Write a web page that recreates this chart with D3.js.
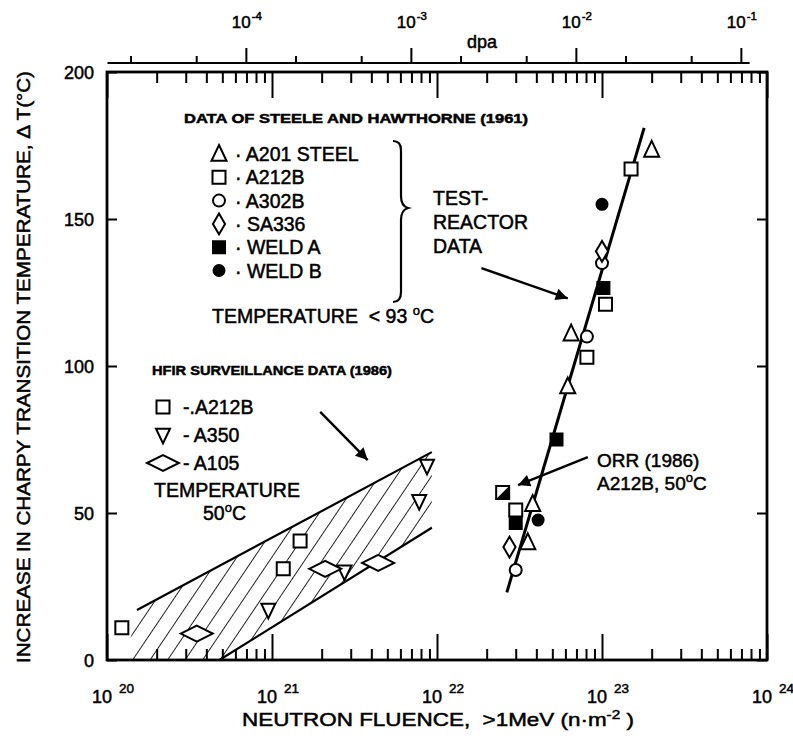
<!DOCTYPE html>
<html><head><meta charset="utf-8">
<script src="https://cdn.jsdelivr.net/npm/d3@7"></script>
<style>body{margin:0;background:#fff}text{font-family:"Liberation Sans",Arial,sans-serif;fill:#000;stroke:#000;stroke-width:0.5px}</style>
</head><body><svg id="c" width="793" height="746"></svg>
<script>
// ---------------- data ----------------
const xDomain = [1e20, 1e24];
const yDomain = [0, 200];
const xMajorTicks = [1e20, 1e21, 1e22, 1e23, 1e24];
const xTickExponents = ["20", "21", "22", "23", "24"];
const yTicks = [0, 50, 100, 150, 200];
const dpaPerFluence = 1.44e-25;
const dpaMajorTicks = [1e-4, 1e-3, 1e-2, 1e-1];
const dpaExponents = ["-4", "-3", "-2", "-1"];
const dpaLineExtent = [1.45e-5, 1.13e-1];

// Steele & Hawthorne (1961), test-reactor data [fluence, dT]
const a201Steel = [[2.0e23, 173.5], [6.5e22, 111], [6.2e22, 93], [3.8e22, 53], [3.55e22, 40]];
const a212B = [[1.5e23, 167], [1.05e23, 121], [8.1e22, 103], [3.0e22, 51]];
const a302B = [[1.0e23, 135], [8.1e22, 110], [3.0e22, 30.6]];
const sa336 = [[1.0e23, 139], [2.75e22, 38.4]];
const weldA = [[1.02e23, 126.5], [5.3e22, 75], [3.0e22, 46.6]];
const weldB = [[1.0e23, 155], [4.1e22, 47.6]];
const orr1986 = [[2.5e22, 57]];
const testReactorFit = [[2.65e22, 23], [1.8e23, 181]];

// HFIR surveillance data (1986)
const hfirA212B = [[1.23e20, 11], [1.17e21, 31], [1.48e21, 40.5]];
const hfirA350 = [[9.5e20, 17], [2.75e21, 30], [7.8e21, 54], [8.7e21, 66]];
const hfirA105 = [[3.5e20, 9], [2.1e21, 31], [4.4e21, 33]];
const hfirBandUpper = [[1.52e20, 17], [9.3e21, 70.7]];
const hfirBandLower = [[4.8e20, 0], [9.3e21, 45]];
const hfirBandLeft = [[1.52e20, 17], [1.3e20, 0]];

// annotation arrows [from, to]
const arrowTest = [[1.86e22, 133.3], [6.2e22, 123]];
const arrowHfir = [[1.96e21, 84.4], [3.8e21, 68]];
const arrowOrr = [[8.2e22, 69], [3.1e22, 59.5]];

// ---------------- drawing ----------------
const svg = d3.select("#c");
svg.append("rect").attr("width", 793).attr("height", 746).attr("fill", "#fff");
const L = 107, R = 767, T = 72, B = 660;
const x = d3.scaleLog().domain(xDomain).range([L, R]);
const y = d3.scaleLinear().domain(yDomain).range([B, T]);
const xd = d3.scaleLog().domain(xDomain.map(v => v * dpaPerFluence)).range([L, R]);

const defs = svg.append("defs");
const pat = defs.append("pattern").attr("id", "hatch").attr("patternUnits", "userSpaceOnUse")
  .attr("width", 14.5).attr("height", 14.5).attr("patternTransform", "rotate(34)");
pat.append("line").attr("x1", 0).attr("y1", 0).attr("x2", 0).attr("y2", 14.5)
  .attr("stroke", "#000").attr("stroke-width", 1.7);
defs.append("marker").attr("id", "ah").attr("viewBox", "0 0 10 10").attr("refX", 10).attr("refY", 5)
  .attr("markerWidth", 22).attr("markerHeight", 12).attr("markerUnits", "userSpaceOnUse").attr("orient", "auto")
  .append("path").attr("d", "M0,0L10,5L0,10Z").attr("fill", "#000");

// HFIR band
const ln = d3.line().x(d => x(d[0])).y(d => y(d[1]));
const bandPoly = [hfirBandLeft[1], hfirBandLeft[0], hfirBandUpper[1], hfirBandLower[1], hfirBandLower[0]];
svg.append("path").attr("d", ln(bandPoly) + "Z").attr("fill", "url(#hatch)").attr("stroke", "none");
[hfirBandUpper, hfirBandLower].forEach(s => svg.append("path").attr("d", ln(s)).attr("stroke", "#000").attr("stroke-width", 2.2).attr("fill", "none"));

// frame
svg.append("rect").attr("x", L).attr("y", T).attr("width", R - L).attr("height", B - T)
  .attr("fill", "none").attr("stroke", "#000").attr("stroke-width", 2.8);

// ticks
const minorX = [];
for (let e = 20; e < 24; e++) for (let m = 2; m <= 9; m++) minorX.push(m * Math.pow(10, e));
function axisStyle(g) { g.select(".domain").remove(); g.selectAll("line").attr("stroke", "#000").attr("stroke-width", 2); g.selectAll("text").remove(); }
svg.append("g").attr("transform", `translate(0,${B})`).call(d3.axisTop(x).tickValues(minorX).tickSize(11).tickFormat("")).call(axisStyle);
svg.append("g").attr("transform", `translate(0,${B})`).call(d3.axisTop(x).tickValues(xMajorTicks).tickSize(26).tickFormat("")).call(axisStyle);
svg.append("g").attr("transform", `translate(0,${T})`).call(d3.axisBottom(x).tickValues(minorX).tickSize(11).tickFormat("")).call(axisStyle);
svg.append("g").attr("transform", `translate(0,${T})`).call(d3.axisBottom(x).tickValues(xMajorTicks).tickSize(26).tickFormat("")).call(axisStyle);
svg.append("g").attr("transform", `translate(${L},0)`).call(d3.axisRight(y).tickValues(yTicks).tickSize(10).tickFormat("")).call(axisStyle);
svg.append("g").attr("transform", `translate(${R},0)`).call(d3.axisLeft(y).tickValues(yTicks).tickSize(10).tickFormat("")).call(axisStyle);

// x tick labels
xMajorTicks.forEach((v, i) => {
  const t = svg.append("text").attr("x", x(v) - 15).attr("y", 703).attr("font-size", 18);
  t.append("tspan").text("10");
  t.append("tspan").attr("dx", 7).attr("dy", -10).attr("font-size", 13.5).text(xTickExponents[i]);
});
// y tick labels
yTicks.forEach(v => svg.append("text").attr("x", 94).attr("y", y(v) + 6.5).attr("text-anchor", "end").attr("font-size", 18).text(v));

// dpa axis
const dpaY = 63;
const dpaMinor = [];
for (let e = -5; e < -1; e++) [2, 5].forEach(m => dpaMinor.push(m * Math.pow(10, e)));
svg.append("line").attr("x1", xd(dpaLineExtent[0])).attr("x2", xd(dpaLineExtent[1])).attr("y1", dpaY).attr("y2", dpaY).attr("stroke", "#000").attr("stroke-width", 2.2);
svg.append("g").attr("transform", `translate(0,${dpaY})`).call(d3.axisTop(xd).tickValues(dpaMinor.filter(v => v > dpaLineExtent[0] && v < dpaLineExtent[1])).tickSize(7).tickFormat("")).call(axisStyle);
svg.append("g").attr("transform", `translate(0,${dpaY})`).call(d3.axisTop(xd).tickValues(dpaMajorTicks).tickSize(15).tickFormat("")).call(axisStyle);
dpaMajorTicks.forEach((v, i) => {
  const t = svg.append("text").attr("x", xd(v) - 14).attr("y", 28).attr("font-size", 17);
  t.append("tspan").text("10");
  t.append("tspan").attr("dx", 1).attr("dy", -8).attr("font-size", 11.5).text(dpaExponents[i]);
});
svg.append("text").attr("x", 482).attr("y", 48).attr("text-anchor", "middle").attr("font-size", 18).text("dpa");

// axis titles
svg.append("text").attr("x", 242).attr("y", 726).attr("font-size", 19).attr("textLength", 392).attr("lengthAdjust", "spacingAndGlyphs")
  .html('NEUTRON FLUENCE, &#160;&gt;1MeV (n·m<tspan dy="-7" font-size="13">-2</tspan><tspan dy="7"> )</tspan>');
svg.append("text").attr("transform", "translate(30,367) rotate(-90)").attr("text-anchor", "middle").attr("font-size", 18)
  .attr("textLength", 592).attr("lengthAdjust", "spacingAndGlyphs")
  .text("INCREASE IN CHARPY TRANSITION TEMPERATURE,  \u0394 T(\u00B0C)");

// symbols
function shape(kind, s) {
  switch (kind) {
    case "tri": return `M0,${-s * 0.6}L${s * 0.5},${s * 0.45}L${-s * 0.5},${s * 0.45}Z`;
    case "tridown": return `M0,${s * 0.6}L${s * 0.5},${-s * 0.45}L${-s * 0.5},${-s * 0.45}Z`;
    case "sq": return `M${-s / 2},${-s / 2}h${s}v${s}h${-s}Z`;
    case "circ": return d3.arc()({ innerRadius: 0, outerRadius: s / 2, startAngle: 0, endAngle: 2 * Math.PI });
    case "dia": return `M0,${-s * 0.65}L${s * 0.38},0L0,${s * 0.65}L${-s * 0.38},0Z`;
    case "wdia": return `M${-s * 0.8},0L0,${-s * 0.4}L${s * 0.8},0L0,${s * 0.4}Z`;
  }
}
function plot(data, kind, filled, s) {
  svg.append("g").selectAll("path").data(data).join("path")
    .attr("transform", d => `translate(${x(d[0])},${y(d[1])})`)
    .attr("d", shape(kind, s)).attr("fill", filled ? "#000" : "#fff").attr("stroke", "#000").attr("stroke-width", 2);
}

// test reactor fit line
svg.append("path").attr("d", ln(testReactorFit)).attr("stroke", "#000").attr("stroke-width", 3).attr("fill", "none");

plot(a201Steel, "tri", false, 15);
plot(a212B, "sq", false, 13);
plot(a302B, "circ", false, 12);
plot(sa336, "dia", false, 16);
plot(weldA, "sq", true, 12);
plot(weldB, "circ", true, 11);
// ORR half-filled square
svg.append("g").selectAll("g").data(orr1986).join("g").attr("transform", d => `translate(${x(d[0])},${y(d[1])})`)
  .call(g => { g.append("path").attr("d", shape("sq", 13)).attr("fill", "#fff").attr("stroke", "#000").attr("stroke-width", 2);
               g.append("path").attr("d", "M6.5,-6.5L6.5,6.5L-6.5,6.5Z").attr("fill", "#000"); });

plot(hfirA212B, "sq", false, 13);
plot(hfirA350, "tridown", false, 14);
plot(hfirA105, "wdia", false, 20);

// arrows
[arrowTest, arrowHfir, arrowOrr].forEach(a => svg.append("path").attr("d", ln(a)).attr("stroke", "#000").attr("stroke-width", 2.4).attr("marker-end", "url(#ah)"));

// legend 1
svg.append("text").attr("x", 184).attr("y", 123).attr("font-size", 13.5).attr("font-weight", "bold")
  .attr("textLength", 344).attr("lengthAdjust", "spacingAndGlyphs").text("DATA OF STEELE AND HAWTHORNE (1961)");
const leg1 = [["tri", false, 15, "A201 STEEL"], ["sq", false, 13, "A212B"], ["circ", false, 12, "A302B"], ["dia", false, 16, "SA336"], ["sq", true, 12, "WELD A"], ["circ", true, 11, "WELD B"]];
leg1.forEach((d, i) => {
  const yy = 154 + i * 23.3;
  svg.append("path").attr("transform", `translate(219,${yy})`).attr("d", shape(d[0], d[2])).attr("fill", d[1] ? "#000" : "#fff").attr("stroke", "#000").attr("stroke-width", 2);
  svg.append("text").attr("x", 235).attr("y", yy + 7).attr("font-size", 19.5).text("· " + d[3]);
});
svg.append("path").attr("d", "M393,141 Q401,141 401,150 L401,196 Q401,206 408,208 Q401,210 401,220 L401,292 Q401,302 393,302")
  .attr("fill", "none").attr("stroke", "#000").attr("stroke-width", 2.2);
svg.append("text").attr("x", 212).attr("y", 323).attr("font-size", 19.5).html('TEMPERATURE &#160;&lt; 93 <tspan dy="-8" font-size="13">o</tspan><tspan dy="8">C</tspan>');
["TEST-", "REACTOR", "DATA"].forEach((t, i) => svg.append("text").attr("x", 433).attr("y", 205 + i * 24).attr("font-size", 19.5).text(t));

// legend 2
svg.append("text").attr("x", 152).attr("y", 375).attr("font-size", 13.5).attr("font-weight", "bold")
  .attr("textLength", 240).attr("lengthAdjust", "spacingAndGlyphs").text("HFIR SURVEILLANCE DATA (1986)");
const leg2 = [["sq", 13, "-.A212B"], ["tridown", 14, "- A350"], ["wdia", 20, "- A105"]];
leg2.forEach((d, i) => {
  const yy = 407 + i * 28;
  svg.append("path").attr("transform", `translate(163,${yy})`).attr("d", shape(d[0], d[1])).attr("fill", "#fff").attr("stroke", "#000").attr("stroke-width", 2);
  svg.append("text").attr("x", 183).attr("y", yy + 7).attr("font-size", 19.5).text(d[2]);
});
svg.append("text").attr("x", 154).attr("y", 497).attr("font-size", 19.5).text("TEMPERATURE");
svg.append("text").attr("x", 203).attr("y", 520).attr("font-size", 19.5).html('50<tspan dy="-8" font-size="13">o</tspan><tspan dy="8">C</tspan>');
svg.append("text").attr("x", 597).attr("y", 467).attr("font-size", 19).text("ORR (1986)");
svg.append("text").attr("x", 597).attr("y", 490).attr("font-size", 19).html('A212B, 50<tspan dy="-8" font-size="13">o</tspan><tspan dy="8">C</tspan>');
</script></body></html>
